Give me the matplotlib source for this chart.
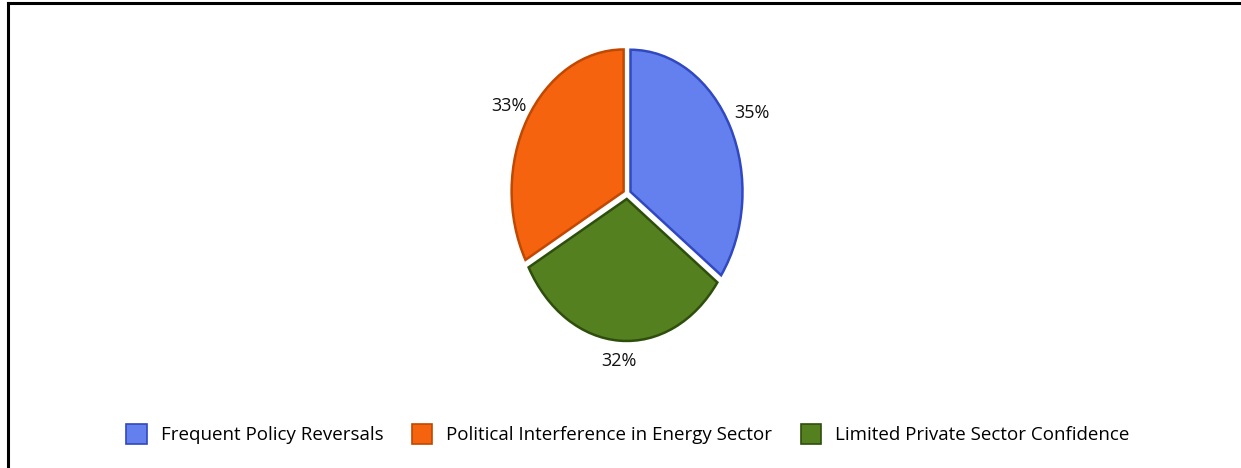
import numpy as np
import matplotlib.pyplot as plt
from matplotlib.lines import Line2D

# ---------- data ----------
categories = ["Frequent Policy Reversals",
              "Political Interference in Energy Sector",
              "Limited Private Sector Confidence"]
shares = [35, 33, 32]
face_colors = ["#6480EE", "#F5630E", "#55801F"]
edge_colors = ["#3048C0", "#C04800", "#2E4E0C"]
label_dist = [1.25, 1.22, 1.18]

plt.rcParams['font.family'] = ['Open Sans', 'DejaVu Sans']

fig = plt.figure(figsize=(12.41, 4.68), dpi=100)

# frame lines on the top and left only
fig.add_artist(Line2D([0.0062, 0.0062], [0, 0.9935], transform=fig.transFigure,
                      color="black", lw=2.2))
fig.add_artist(Line2D([0.0062, 1.0], [0.9935, 0.9935], transform=fig.transFigure,
                      color="black", lw=2.2))

# pie axes, stretched vertically so the pie becomes an ellipse
ax_w, ax_h = 280 / 1241, 355 / 468
ax = fig.add_axes([487 / 1241, (468 - 194 - 355 / 2) / 468, ax_w, ax_h])

# legend order: blue, orange, green; drawn clockwise from the top: blue, green, orange
order = [0, 2, 1]
wedges, _ = ax.pie(
    [shares[i] for i in order],
    colors=[face_colors[i] for i in order],
    startangle=90,
    counterclock=False,
    explode=[0.035] * 3,
    wedgeprops=dict(linewidth=1.8),
)
for w, i in zip(wedges, order):
    w.set_edgecolor(edge_colors[i])
    mid = np.deg2rad((w.theta1 + w.theta2) / 2)
    r = label_dist[i]
    ax.text(r * np.cos(mid), r * np.sin(mid), f"{shares[i]}%", ha="center", va="center",
            fontsize=13, color="#111111")
ax.set_aspect("auto")
ax.set_xlim(-1.25, 1.25)
ax.set_ylim(-1.25, 1.25)

handles = [plt.Rectangle((0, 0), 1, 1, facecolor=face_colors[i],
                         edgecolor=edge_colors[i], linewidth=1.2) for i in range(3)]
fig.legend(handles, categories, loc="center", bbox_to_anchor=(628 / 1241, 1 - 434 / 468),
           ncol=3, frameon=False, fontsize=13.5, handlelength=1.1, handleheight=1.3,
           handletextpad=0.75, columnspacing=1.5)

fig.savefig("out.png", dpi=100)
